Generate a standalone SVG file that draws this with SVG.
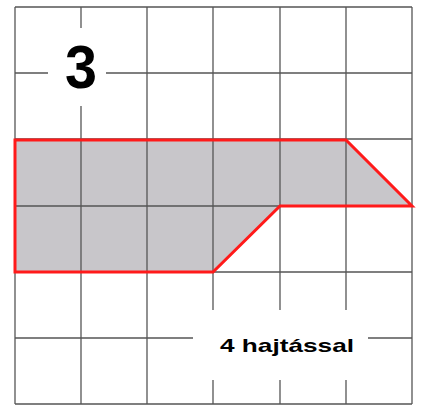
<svg xmlns="http://www.w3.org/2000/svg" width="421" height="407" viewBox="0 0 421 407">
<style>
.g{stroke:#555;stroke-width:1.3;fill:none}
.t{font-family:"Liberation Sans","DejaVu Sans",sans-serif;font-weight:bold;fill:#000}
</style>
<rect width="421" height="407" fill="#fff"/>
<g id="shape-fill">
<polygon points="15,140 346,140 412,206 280,206 213,272 15,272" fill="#c8c6ca"/>
</g>
<g id="grid">
<line class="g" x1="15" y1="7" x2="412" y2="7"/>
<line class="g" x1="15" y1="73" x2="48" y2="73"/>
<line class="g" x1="106" y1="73" x2="412" y2="73"/>
<line class="g" x1="15" y1="139" x2="412" y2="139"/>
<line class="g" x1="15" y1="206" x2="412" y2="206"/>
<line class="g" x1="15" y1="272" x2="412" y2="272"/>
<line class="g" x1="15" y1="338" x2="193" y2="338"/>
<line class="g" x1="368" y1="338" x2="412" y2="338"/>
<line class="g" x1="15" y1="404" x2="412" y2="404"/>
<line class="g" x1="15" y1="7" x2="15" y2="404"/>
<line class="g" x1="81" y1="7" x2="81" y2="28"/>
<line class="g" x1="81" y1="106" x2="81" y2="404"/>
<line class="g" x1="147" y1="7" x2="147" y2="404"/>
<line class="g" x1="213" y1="7" x2="213" y2="310"/>
<line class="g" x1="213" y1="380" x2="213" y2="404"/>
<line class="g" x1="280" y1="7" x2="280" y2="310"/>
<line class="g" x1="280" y1="380" x2="280" y2="404"/>
<line class="g" x1="346" y1="7" x2="346" y2="310"/>
<line class="g" x1="346" y1="380" x2="346" y2="404"/>
<line class="g" x1="412" y1="7" x2="412" y2="404"/>
</g>
<g id="shape">
<polygon points="15,140 346,140 412,206 280,206 213,272 15,272" fill="none" stroke="#ff1a1a" stroke-width="3" stroke-linejoin="miter"/>
</g>
<g id="labels">
<text class="t" x="81" y="88" font-size="62" text-anchor="middle" textLength="32" lengthAdjust="spacingAndGlyphs">3</text>
<text class="t" x="220" y="352" font-size="19" textLength="134" lengthAdjust="spacingAndGlyphs">4 hajtással</text>
</g>
</svg>
